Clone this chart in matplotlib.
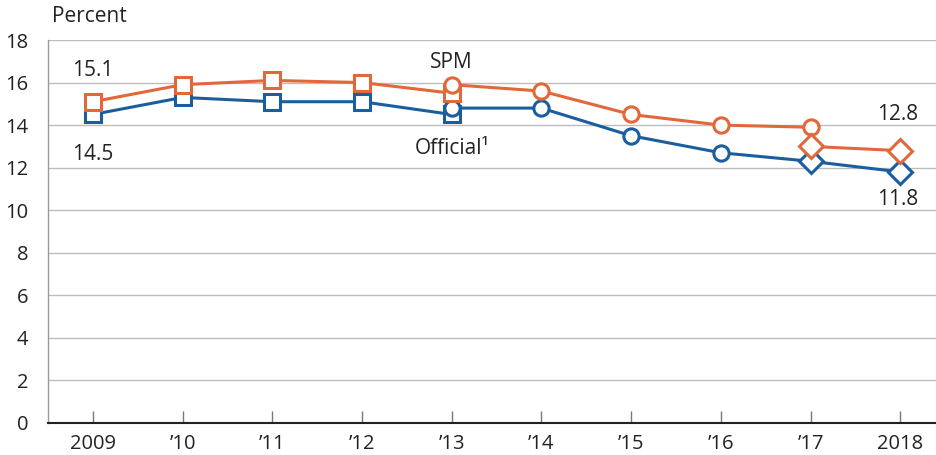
import matplotlib
matplotlib.use("Agg")
import matplotlib.pyplot as plt

# Data
years_sq = [2009, 2010, 2011, 2012, 2013]
years_ci = [2013, 2014, 2015, 2016, 2017]
years_di = [2017, 2018]

official_sq = [14.5, 15.3, 15.1, 15.1, 14.5]
official_ci = [14.8, 14.8, 13.5, 12.7, 12.3]
official_di = [12.3, 11.8]

spm_sq = [15.1, 15.9, 16.1, 16.0, 15.5]
spm_ci = [15.9, 15.6, 14.5, 14.0, 13.9]
spm_di = [13.0, 12.8]

tick_years = [2009, 2010, 2011, 2012, 2013, 2014, 2015, 2016, 2017, 2018]
tick_labels = ["2009", "\u201910", "\u201911", "\u201912", "\u201913", "\u201914",
               "\u201915", "\u201916", "\u201917", "2018"]

BLUE = "#1B5E9E"
ORANGE = "#E2673A"

plt.rcParams['font.family'] = ['Open Sans', 'DejaVu Sans']

fig = plt.figure(figsize=(9.37, 4.55), dpi=100)
ax = fig.add_axes([48/937, 1-423/455, 1-48/937, (423-40)/455])

common = dict(lw=2.2, mfc="white", mew=2.2, clip_on=False, zorder=3)
for color, sq, ci, di in [(BLUE, official_sq, official_ci, official_di),
                          (ORANGE, spm_sq, spm_ci, spm_di)]:
    ax.plot(years_sq, sq, color=color, marker="s", ms=11, mec=color, **common)
    ax.plot(years_ci, ci, color=color, marker="o", ms=11, mec=color, **common)
    ax.plot(years_di, di, color=color, marker="D", ms=12.5, mec=color, **common)

ax.set_xlim(2008.5, 2018.41)
ax.set_ylim(0, 18)
ax.set_yticks(range(0, 19, 2))
ax.set_xticks(tick_years)
ax.set_xticklabels(tick_labels)
ax.grid(axis="y", color="#BDBDBD", lw=1.0)
ax.set_axisbelow(True)

for s in ["top", "right"]:
    ax.spines[s].set_visible(False)
ax.spines["left"].set_color("#9A9A9A")
ax.spines["left"].set_linewidth(1.0)
ax.spines["bottom"].set_color("#222222")
ax.spines["bottom"].set_linewidth(1.5)
ax.spines["bottom"].set_zorder(4)

ax.tick_params(axis="y", length=0, labelsize=14.5, pad=14, colors="#222222")
ax.tick_params(axis="x", direction="in", length=9, width=1, color="#777777",
               labelsize=14.5, pad=8, labelcolor="#222222")

tk = dict(fontsize=15, color="#222222")
ax.text(2009, 16.55, "15.1", ha="center", va="center", **tk)
ax.text(2009, 12.6, "14.5", ha="center", va="center", **tk)
ax.text(2013, 16.95, "SPM", ha="center", va="center", **tk)
ax.text(2013, 12.9, "Official\u00b9", ha="center", va="center", **tk)
ax.text(2017.97, 14.5, "12.8", ha="center", va="center", **tk)
ax.text(2017.97, 10.5, "11.8", ha="center", va="center", **tk)

fig.text(52/937, 1-17/455, "Percent", ha="left", va="center", fontsize=15, color="#222222")

fig.savefig("out.png", dpi=100)
